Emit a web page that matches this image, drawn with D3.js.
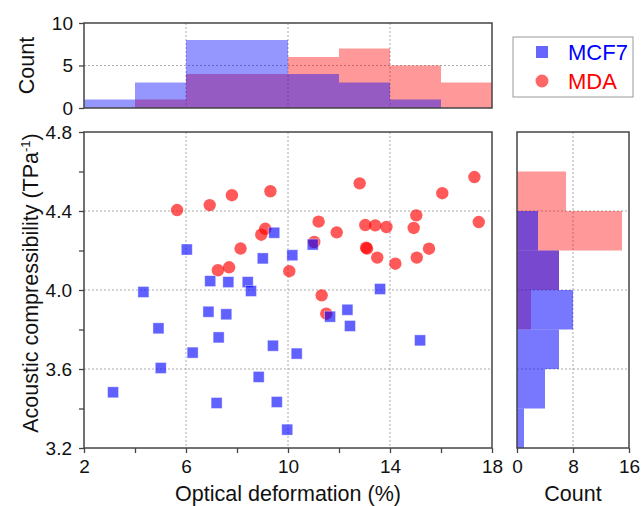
<!DOCTYPE html>
<html><head><meta charset="utf-8">
<script src="https://cdn.jsdelivr.net/npm/d3@7"></script>
<style>
html,body{margin:0;padding:0;background:#fff;}
text{font-family:"Liberation Sans",Arial,sans-serif;fill:#111;}
</style></head>
<body>
<svg id="chart" width="641" height="506"></svg>
<script>
// ---- data ----
const mcf7X = [9.46,6.03,9.01,10.17,6.95,7.66,8.42,4.33,8.55,6.88,7.58,4.92,7.28,6.26,9.41,10.34,5.01,3.14,8.85,7.20,9.56,9.97,11.65,12.33,12.43,13.61,15.18,10.97];
const mcf7Y = [4.29,4.205,4.16,4.176,4.045,4.04,4.04,3.99,3.995,3.89,3.877,3.806,3.76,3.683,3.718,3.678,3.605,3.482,3.56,3.428,3.433,3.293,3.865,3.90,3.818,4.005,3.745,4.23];
const mdaX = [5.65,6.93,7.80,9.31,9.11,8.95,8.14,7.69,7.25,10.05,11.32,11.50,12.81,17.31,16.05,15.03,11.20,17.48,13.03,13.42,13.86,14.93,11.91,11.03,13.06,13.10,15.53,13.50,15.05,14.21];
const mdaY = [4.405,4.43,4.48,4.50,4.31,4.28,4.21,4.115,4.10,4.095,3.973,3.88,4.54,4.572,4.49,4.378,4.346,4.344,4.329,4.327,4.319,4.314,4.292,4.243,4.214,4.21,4.209,4.164,4.164,4.133];
const seriesNames = ["MCF7","MDA"];
const xTicks = [2,6,10,14,18];
const xMinor = [4,8,12,16];
const yTicks = [3.2,3.6,4.0,4.4,4.8];
const yMinor = [3.4,3.8,4.2,4.6];
const xBins = [2,4,6,8,10,12,14,16,18];
const yBins = [3.2,3.4,3.6,3.8,4.0,4.2,4.4,4.6,4.8];
const topCountTicks = [0,5,10];
const rightCountTicks = [0,8,16];

// ---- layout ----
const svg = d3.select("#chart");
const M = {l:84, r:492, t:132, b:448};
const T = {t:23, b:108};
const R = {l:517, r:629};
const frameColor = "#444";
const gridColor = "#aaa";

const x = d3.scaleLinear().domain([2,18]).range([M.l,M.r]);
const y = d3.scaleLinear().domain([3.2,4.8]).range([M.b,M.t]);
const yTop = d3.scaleLinear().domain([0,10]).range([T.b,T.t]);
const xRight = d3.scaleLinear().domain([0,16]).range([R.l,R.r]);

const blue = "#0000ff", red = "#ff0000";

function grid(g, xs, ys, xsc, ysc, x0, x1, y0, y1){
  xs.forEach(v=>g.append("line").attr("x1",xsc(v)).attr("x2",xsc(v)).attr("y1",y0).attr("y2",y1)
    .attr("stroke",gridColor).attr("stroke-width",1).attr("stroke-dasharray","2,2"));
  ys.forEach(v=>g.append("line").attr("y1",ysc(v)).attr("y2",ysc(v)).attr("x1",x0).attr("x2",x1)
    .attr("stroke",gridColor).attr("stroke-width",1).attr("stroke-dasharray","2,2"));
}
function styleAxis(g){
  g.select(".domain").remove();
  g.selectAll(".tick line").attr("stroke",frameColor).attr("stroke-width",1.3);
  g.selectAll(".tick text").style("font-size","19px").attr("fill","#111");
}

// ---- top histogram ----
const binX = d3.bin().domain([2,18]).thresholds(xBins.slice(1,-1));
const topG = svg.append("g");
grid(topG,[6,10,14],[5],x,yTop,M.l,M.r,T.t,T.b);
const mdaBinsX = binX(mdaX), mcfBinsX = binX(mcf7X);
topG.selectAll(".rt").data(mdaBinsX).join("rect")
  .attr("x",d=>x(d.x0)).attr("width",d=>x(d.x1)-x(d.x0))
  .attr("y",d=>yTop(d.length)).attr("height",d=>yTop(0)-yTop(d.length))
  .attr("fill",red).attr("fill-opacity",0.4);
topG.selectAll(".bt").data(mcfBinsX).join("rect")
  .attr("x",d=>x(d.x0)).attr("width",d=>x(d.x1)-x(d.x0))
  .attr("y",d=>yTop(d.length)).attr("height",d=>yTop(0)-yTop(d.length))
  .attr("fill",blue).attr("fill-opacity",0.41);
topG.append("rect").attr("x",M.l).attr("y",T.t).attr("width",M.r-M.l).attr("height",T.b-T.t)
  .attr("fill","none").attr("stroke",frameColor).attr("stroke-width",1.5);
const topAx = topG.append("g").attr("transform",`translate(${M.l},0)`)
  .call(d3.axisLeft(yTop).tickValues(topCountTicks).tickSize(5).tickPadding(6).tickFormat(d3.format("d")));
styleAxis(topAx);
topG.append("text").attr("transform",`translate(34,${(T.t+T.b)/2}) rotate(-90)`)
  .attr("text-anchor","middle").style("font-size","21.5px").text("Count");

// ---- main scatter ----
const mainG = svg.append("g");
grid(mainG,[6,10,14],[3.6,4.0,4.4],x,y,M.l,M.r,M.t,M.b);
const mdaPts = mdaX.map((v,i)=>({x:v,y:mdaY[i]}));
const mcfPts = mcf7X.map((v,i)=>({x:v,y:mcf7Y[i]}));
mainG.selectAll(".c").data(mdaPts).join("circle")
  .attr("cx",d=>x(d.x)).attr("cy",d=>y(d.y)).attr("r",6.2)
  .attr("fill",red).attr("fill-opacity",0.65);
const sq = 11;
mainG.selectAll(".s").data(mcfPts).join("rect")
  .attr("x",d=>x(d.x)-sq/2).attr("y",d=>y(d.y)-sq/2).attr("width",sq).attr("height",sq)
  .attr("fill",blue).attr("fill-opacity",0.62)
  .attr("stroke","#fff").attr("stroke-opacity",0.5).attr("stroke-width",0.8);
mainG.append("rect").attr("x",M.l).attr("y",M.t).attr("width",M.r-M.l).attr("height",M.b-M.t)
  .attr("fill","none").attr("stroke",frameColor).attr("stroke-width",1.5);
const xAx = mainG.append("g").attr("transform",`translate(0,${M.b})`)
  .call(d3.axisBottom(x).tickValues(xTicks).tickSize(5).tickPadding(7).tickFormat(d3.format("d")));
styleAxis(xAx);
const xAxM = mainG.append("g").attr("transform",`translate(0,${M.b})`)
  .call(d3.axisBottom(x).tickValues(xMinor).tickSize(5).tickFormat(""));
styleAxis(xAxM);
const yAx = mainG.append("g").attr("transform",`translate(${M.l},0)`)
  .call(d3.axisLeft(y).tickValues(yTicks).tickSize(5).tickPadding(7).tickFormat(d3.format(".1f")));
styleAxis(yAx);
const yAxM = mainG.append("g").attr("transform",`translate(${M.l},0)`)
  .call(d3.axisLeft(y).tickValues(yMinor).tickSize(5).tickFormat(""));
styleAxis(yAxM);
mainG.append("text").attr("x",(M.l+M.r)/2).attr("y",501)
  .attr("text-anchor","middle").style("font-size","21.5px").text("Optical deformation (%)");
const yt = mainG.append("text").attr("transform",`translate(38,283) rotate(-90)`)
  .attr("text-anchor","middle").style("font-size","21.5px");
yt.append("tspan").text("Acoustic compressibility (TPa");
yt.append("tspan").attr("dy",-8).style("font-size","13px").text("-1");
yt.append("tspan").attr("dy",8).text(")");

// ---- right histogram ----
const binY = d3.bin().domain([3.2,4.8]).thresholds(yBins.slice(1,-1));
const rG = svg.append("g");
grid(rG,[8],[3.6,4.0,4.4],xRight,y,R.l,R.r,M.t,M.b);
rG.selectAll(".rr").data(binY(mdaY)).join("rect")
  .attr("x",xRight(0)).attr("width",d=>xRight(d.length)-xRight(0))
  .attr("y",d=>y(d.x1)).attr("height",d=>y(d.x0)-y(d.x1))
  .attr("fill",red).attr("fill-opacity",0.4);
rG.selectAll(".rb").data(binY(mcf7Y)).join("rect")
  .attr("x",xRight(0)).attr("width",d=>xRight(d.length)-xRight(0))
  .attr("y",d=>y(d.x1)).attr("height",d=>y(d.x0)-y(d.x1))
  .attr("fill",blue).attr("fill-opacity",0.53);
rG.append("rect").attr("x",R.l).attr("y",M.t).attr("width",R.r-R.l).attr("height",M.b-M.t)
  .attr("fill","none").attr("stroke",frameColor).attr("stroke-width",1.5);
const rAx = rG.append("g").attr("transform",`translate(0,${M.b})`)
  .call(d3.axisBottom(xRight).tickValues(rightCountTicks).tickSize(5).tickPadding(7).tickFormat(d3.format("d")));
styleAxis(rAx);
rG.append("text").attr("x",(R.l+R.r)/2).attr("y",501)
  .attr("text-anchor","middle").style("font-size","21.5px").text("Count");

// ---- legend ----
const lg = svg.append("g");
lg.append("rect").attr("x",513).attr("y",37).attr("width",120).attr("height",60)
  .attr("fill","#fff").attr("stroke","#999").attr("stroke-width",1);
lg.append("rect").attr("x",542-6).attr("y",52-6).attr("width",12).attr("height",12)
  .attr("fill",blue).attr("fill-opacity",0.6);
lg.append("circle").attr("cx",542).attr("cy",81).attr("r",6.5)
  .attr("fill",red).attr("fill-opacity",0.6);
lg.append("text").attr("x",568).attr("y",60).style("font-size","22px").style("fill",blue).text(seriesNames[0]);
lg.append("text").attr("x",568).attr("y",89).style("font-size","22px").style("fill",red).text(seriesNames[1]);
</script>
</body></html>
